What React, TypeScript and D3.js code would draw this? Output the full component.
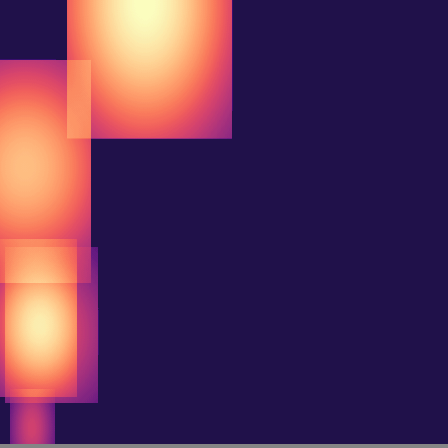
import { useEffect, useRef } from "react";
import * as d3 from "d3";

// blobs in chart units (x: 0..100, y: 0..100 top-down)
const blobIds = ["A", "B", "C", "D", "E"];
const rectX0 = [14.96, -8.93, -1.12, 1.12, 2.23];
const rectX1 = [51.79, 20.31, 17.19, 21.88, 12.28];
const rectY0 = [-29.3, 13.51, 53.83, 55.63, 87.61];
const rectY1 = [31.19, 63.74, 89.41, 90.77, 101.4];
const centerX = [32.37, 5.58, 8.48, 10.04, 7.14];
const centerY = [0.68, 37.61, 72.52, 74.77, 96.4];
const spreadX = [17.41, 16.74, 10.27, 12.05, 3.97];
const spreadY = [28.15, 21.4, 15.32, 15.32, 9.01];
const amplitude = [0.87, 0.73, 0.67, 0.5, 0.43];
const floor = 0.135;

export default function App() {
  const svgRef = useRef<SVGSVGElement>(null);

  useEffect(() => {
    if (!svgRef.current) return;
    const svg = d3.select(svgRef.current);
    svg.selectAll("*").remove();
    const width = 448;
    const height = 448;
    const plotH = 444;

    const x = d3.scaleLinear().domain([0, 100]).range([0, width]);
    const y = d3.scaleLinear().domain([0, 100]).range([0, plotH]);
    // summed density (0..1) -> magma
    const color = (s: number) => d3.interpolateMagma(Math.min(1, floor + Math.sqrt(s)));

    svg.append("rect").attr("width", width).attr("height", height).attr("fill", "#858585");

    const defs = svg.append("defs");
    const blobs = blobIds.map((id, i) => ({
      id,
      x0: rectX0[i],
      x1: rectX1[i],
      y0: rectY0[i],
      y1: rectY1[i],
      cx: centerX[i],
      cy: centerY[i],
      sx: spreadX[i],
      sy: spreadY[i],
      amp: amplitude[i],
    }));

    blobs.forEach((b) => {
      const cx = x(b.cx);
      const cy = y(b.cy);
      const sxp = x(b.sx) - x(0);
      const r = 3 * sxp;
      const k = (y(b.sy) - y(0)) / sxp;
      const g = defs
        .append("radialGradient")
        .attr("id", "g" + b.id)
        .attr("gradientUnits", "userSpaceOnUse")
        .attr("cx", cx)
        .attr("cy", cy)
        .attr("r", r)
        .attr("gradientTransform", `translate(${cx},${cy}) scale(1,${k}) translate(${-cx},${-cy})`);
      d3.range(0, 1.0001, 0.025).forEach((t) => {
        const u = 3 * t;
        const s = b.amp * b.amp * Math.exp(-u * u);
        const c = Math.round(s * 255);
        g.append("stop").attr("offset", t).attr("stop-color", d3.rgb(c, c, c).formatHex());
      });
    });

    const lut = d3.range(256).map((i) => d3.rgb(color(i / 255)));
    const filter = defs
      .append("filter")
      .attr("id", "magmaMap")
      .attr("filterUnits", "userSpaceOnUse")
      .attr("x", 0)
      .attr("y", 0)
      .attr("width", width)
      .attr("height", plotH)
      .attr("color-interpolation-filters", "sRGB");
    const ct = filter.append("feComponentTransfer").attr("color-interpolation-filters", "sRGB");
    (["R", "G", "B"] as const).forEach((ch) => {
      const key = ch === "R" ? "r" : ch === "G" ? "g" : "b";
      ct.append("feFunc" + ch)
        .attr("type", "table")
        .attr("tableValues", lut.map((c) => (c[key] / 255).toFixed(4)).join(" "));
    });

    const clip = defs.append("clipPath").attr("id", "plotClip");
    clip.append("rect").attr("width", width).attr("height", plotH);

    const plot = svg
      .append("g")
      .attr("clip-path", "url(#plotClip)")
      .append("g")
      .attr("filter", "url(#magmaMap)")
      .style("isolation", "isolate");

    plot.append("rect").attr("width", width).attr("height", plotH).attr("fill", "#000");

    plot
      .selectAll("rect.blob")
      .data(blobs)
      .enter()
      .append("rect")
      .attr("class", "blob")
      .attr("x", (d) => x(d.x0))
      .attr("y", (d) => y(d.y0))
      .attr("width", (d) => x(d.x1) - x(d.x0))
      .attr("height", (d) => y(d.y1) - y(d.y0))
      .attr("fill", (d) => `url(#g${d.id})`)
      .style("mix-blend-mode", "plus-lighter");
  }, []);

  return (
    <svg
      ref={svgRef}
      width={448}
      height={448}
      style={{ position: "absolute", left: 0, top: 0, display: "block" }}
    />
  );
}
